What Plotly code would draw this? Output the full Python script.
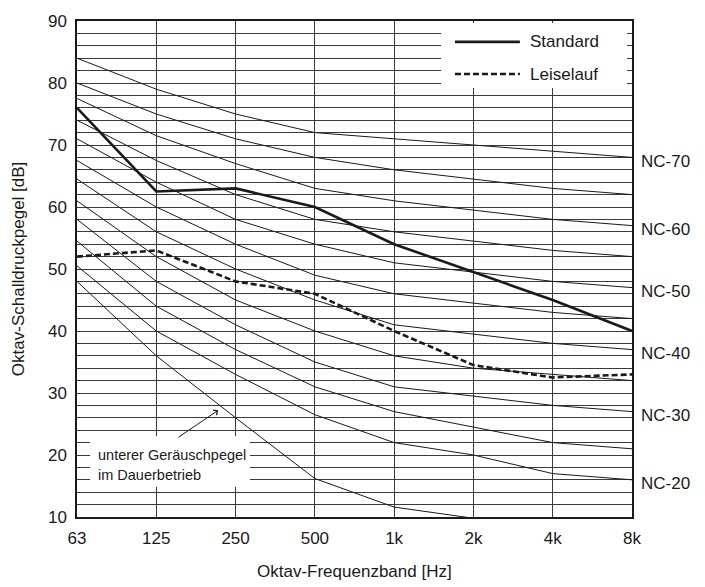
import plotly.graph_objects as go

# Octave bands
bands = ["63", "125", "250", "500", "1k", "2k", "4k", "8k"]

# Noise-criterion reference curves (dB per octave band)
nc70 = [84, 79, 75, 72, 71, 70, 69, 68]
nc65 = [80, 75, 71, 68, 66, 64.5, 63, 62]
nc60 = [77.5, 71.5, 67, 63, 61, 59.5, 58, 57]
nc55 = [74, 67.5, 62, 58, 56, 54.5, 53, 52]
nc50 = [71, 64, 58, 54, 51, 49.5, 48, 47]
nc45 = [67.5, 60, 54, 49, 46, 44.5, 43, 42]
nc40 = [64.5, 56, 50, 45, 41, 39.5, 38, 37]
nc35 = [61, 52, 45, 40, 36, 34, 33, 32]
nc30 = [58, 48, 41, 35, 31, 29.5, 28, 27]
nc25 = [54.5, 44, 37, 31, 27, 24.5, 22, 21]
nc20 = [50.5, 40, 33, 26.5, 22, 20, 17, 16]
lower_curve = [48, 36, 26, 16.2, 11.6, 9.8]

nc_curves = [nc70, nc65, nc60, nc55, nc50, nc45, nc40, nc35, nc30, nc25, nc20, lower_curve]
nc_labels = {"NC-70": nc70, "NC-60": nc60, "NC-50": nc50,
             "NC-40": nc40, "NC-30": nc30, "NC-20": nc20}

# Measured spectra
standard = [76, 62.5, 63, 60, 54, 49.5, 45, 40]
leiselauf = [52, 53, 48, 46, 40, 34.5, 32.5, 33]

y_ticks = [10, 20, 30, 40, 50, 60, 70, 80, 90]

FONT = "Liberation Sans, Arial, Helvetica, sans-serif"
NARROW = "Liberation Sans Narrow, Arial Narrow, Liberation Sans, sans-serif"
INK = "#1a1a1a"
GRID = "#3a3a3a"

xpos = list(range(len(bands)))

fig = go.Figure()

for curve in nc_curves:
    fig.add_trace(go.Scatter(
        x=xpos[:len(curve)], y=curve, mode="lines",
        line=dict(color=INK, width=1), showlegend=False, hoverinfo="skip"))

fig.add_trace(go.Scatter(
    x=xpos, y=standard, mode="lines", name="Standard",
    line=dict(color=INK, width=2.6), showlegend=False))
fig.add_trace(go.Scatter(
    x=xpos, y=leiselauf, mode="lines", name="Leiselauf",
    line=dict(color=INK, width=2.6, dash="6px,3px"), showlegend=False))

annotations = []
# NC labels on the right edge
for text, curve in nc_labels.items():
    annotations.append(dict(
        x=xpos[-1], y=curve[-1], xref="x", yref="y", text=text,
        showarrow=False, xanchor="left", yanchor="middle", xshift=7, yshift=-4,
        font=dict(family=FONT, size=17, color=INK)))

# Axis titles
annotations.append(dict(
    x=0.5, y=-0.109, xref="paper", yref="paper", text="Oktav-Frequenzband [Hz]",
    showarrow=False, xanchor="center", yanchor="middle",
    font=dict(family=FONT, size=17, color=INK)))
annotations.append(dict(
    x=-0.106, y=0.5, xref="paper", yref="paper", text="Oktav-Schalldruckpegel [dB]",
    showarrow=False, xanchor="center", yanchor="middle", textangle=-90,
    font=dict(family=FONT, size=17, color=INK)))

# Legend entries
for label, yp in (("Standard", 0.958), ("Leiselauf", 0.893)):
    annotations.append(dict(
        x=0.8126, y=yp, xref="paper", yref="paper", text=label,
        showarrow=False, xanchor="left", yanchor="middle",
        font=dict(family=FONT, size=17, color=INK)))

# Note with arrow pointing at the lowest curve
annotations.append(dict(
    x=0.034, y=0.126, xref="paper", yref="paper", text="unterer Geräuschpegel",
    showarrow=False, xanchor="left", yanchor="middle",
    font=dict(family=NARROW, size=14.5, color=INK)))
annotations.append(dict(
    x=0.034, y=0.084, xref="paper", yref="paper", text="im Dauerbetrieb",
    showarrow=False, xanchor="left", yanchor="middle",
    font=dict(family=NARROW, size=14.5, color=INK)))
annotations.append(dict(
    x=1.78, y=27.2, xref="x", yref="y", ax=1.26, ay=22.7, axref="x", ayref="y",
    text="", showarrow=True, arrowhead=4, arrowsize=1.2, arrowwidth=1,
    arrowcolor=INK))

shapes = [
    # white panels that mask the grid behind the legend and the note
    dict(type="rect", xref="paper", yref="paper", x0=0.656, x1=0.991, y0=0.865, y1=0.996,
         fillcolor="white", line=dict(width=0), layer="above"),
    dict(type="rect", xref="paper", yref="paper", x0=0.0234, x1=0.3117, y0=0.061, y1=0.163,
         fillcolor="white", line=dict(width=0), layer="above"),
    # legend line samples
    dict(type="line", xref="paper", yref="paper", x0=0.681, x1=0.798, y0=0.958, y1=0.958,
         line=dict(color=INK, width=2.6), layer="above"),
    dict(type="line", xref="paper", yref="paper", x0=0.681, x1=0.798, y0=0.893, y1=0.893,
         line=dict(color=INK, width=2.6, dash="6px,3px"), layer="above"),
]

fig.update_layout(
    width=705, height=587,
    margin=dict(l=77, r=73, t=12, b=70),
    paper_bgcolor="white", plot_bgcolor="white",
    annotations=annotations, shapes=shapes,
    font=dict(family=FONT, size=17, color=INK),
)

fig.update_xaxes(
    range=[0, 7], tickmode="array", tickvals=xpos, ticktext=bands,
    showgrid=True, gridcolor=GRID, gridwidth=1, zeroline=False,
    showline=True, linecolor=INK, linewidth=1.5, mirror=True,
    ticks="", ticklabelstandoff=5,
    tickfont=dict(family=FONT, size=17, color=INK))

fig.update_yaxes(
    range=[10, 90], tickmode="array", tickvals=y_ticks,
    showgrid=True, gridcolor=GRID, gridwidth=1, zeroline=False,
    minor=dict(dtick=2, showgrid=True, gridcolor=GRID, gridwidth=1),
    showline=True, linecolor=INK, linewidth=1.5, mirror=True,
    ticks="", ticklabelstandoff=5,
    tickfont=dict(family=FONT, size=17, color=INK))

fig.write_html("out.html")
